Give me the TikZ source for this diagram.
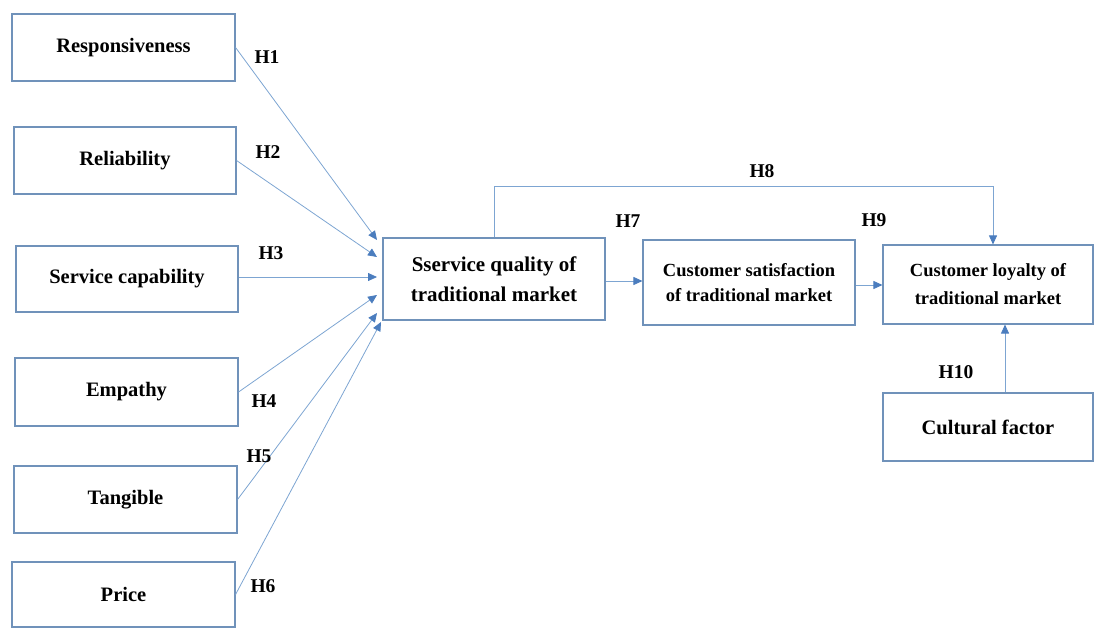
\documentclass[tikz,border=0pt]{standalone}
\usepackage{fontspec}
\setmainfont{Liberation Serif}
\usetikzlibrary{arrows.meta}
\definecolor{boxc}{RGB}{112,146,186}
\definecolor{linec}{RGB}{125,165,210}
\definecolor{tipc}{RGB}{75,125,190}
\tikzset{
  bx/.style={draw=boxc, line width=1.1pt, fill=white, inner sep=0pt, align=center,
     font=\fontsize{20.5}{26}\selectfont\bfseries},
  bxs/.style={bx, font=\fontsize{18.5}{25}\selectfont\bfseries},
  conn/.style={draw=linec, line width=0.8pt, -{Triangle[length=9pt,width=8pt,fill=tipc,color=tipc]}},
  hl/.style={font=\fontsize{19.5}{22}\selectfont\bfseries, inner sep=0pt}
}
\begin{document}
\begin{tikzpicture}[x=1pt,y=-1pt]
\useasboundingbox (0,0) rectangle (1094,628);
\node[bx, minimum width=223, minimum height=67] (resp) at (123.5,47.5) {Responsiveness};
\node[bx, minimum width=222, minimum height=67] (rel) at (125,160.5) {Reliability};
\node[bx, minimum width=222, minimum height=66] (sc) at (127,279) {Service capability};
\node[bx, minimum width=223, minimum height=68] (emp) at (126.5,392) {Empathy};
\node[bx, minimum width=223, minimum height=67] (tan) at (125.5,499.5) {Tangible};
\node[bx, minimum width=223, minimum height=65] (price) at (123.5,594.5) {Price};
\node[bx, minimum width=222, minimum height=82, font=\fontsize{21}{30}\selectfont\bfseries] (sq) at (494,279) {Sservice quality of\\traditional market};
\node[bxs, minimum width=212, minimum height=85] (cs) at (749,282.5) {Customer satisfaction\\of traditional market};
\node[bxs, minimum width=210, minimum height=79, font=\fontsize{18.5}{28}\selectfont\bfseries] (loy) at (988,284.5) {Customer loyalty of\\traditional market};
\node[bx, minimum width=210, minimum height=68] (cult) at (988,427) {Cultural factor};

\coordinate (t1) at (377,240);
\coordinate (t2) at (377,257);
\coordinate (t3) at (377,277);
\coordinate (t4) at (377,295);
\coordinate (t5) at (377,313);
\coordinate (t6) at (381,322);
\draw[conn] (resp.east) -- (t1);
\draw[conn] (rel.east) -- (t2);
\draw[conn] (sc.east |- t3) -- (t3);
\draw[conn] (emp.east) -- (t4);
\draw[conn] (tan.east) -- (t5);
\draw[conn] (price.east) -- (t6);

\draw[conn] (sq.east |- 0,281) -- (cs.west |- 0,281);
\draw[conn] (cs.east |- 0,285) -- (loy.west |- 0,285);
\coordinate (h8a) at (494,186);
\coordinate (h8b) at (993,186);
\draw[conn] (sq.north -| h8a) -- (h8a) -- (h8b) -- (loy.north -| h8b);
\draw[conn] (cult.north -| 1005,0) -- (loy.south -| 1005,0);

\node[hl] (H1) at (267,57) {H1};
\node[hl] (H2) at (268,152) {H2};
\node[hl] (H3) at (271,253) {H3};
\node[hl] (H4) at (264,401) {H4};
\node[hl] (H5) at (259,456) {H5};
\node[hl] (H6) at (263,586) {H6};
\node[hl] (H7) at (628,221) {H7};
\node[hl] (H8) at (762,171) {H8};
\node[hl] (H9) at (874,220) {H9};
\node[hl] (H10) at (956,372) {H10};
\end{tikzpicture}
\end{document}
